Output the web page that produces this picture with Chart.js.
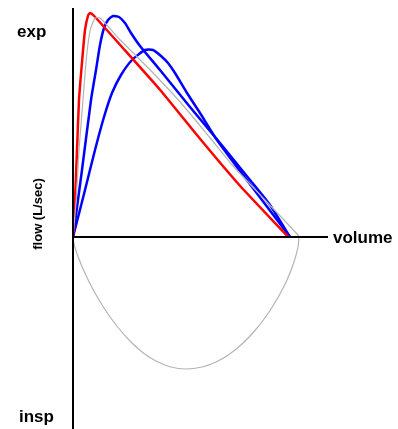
<!DOCTYPE html>
<html>
<head>
<meta charset="utf-8">
<script src="https://cdn.jsdelivr.net/npm/chart.js@4.4.1/dist/chart.umd.min.js"></script>
<style>
html,body{margin:0;padding:0;background:#fff;}
#wrap{width:398px;height:429px;position:relative;}
</style>
</head>
<body>
<div id="wrap"><canvas id="c" width="398" height="429"></canvas></div>
<script>
// Volume (L) and flow (L/sec)
const redVolume  = [0, 0.05, 0.10, 0.15, 0.23, 0.30, 0.38, 0.43, 0.53, 1.18, 2.18, 3.18, 4.18, 5.38];
const redFlow    = [0, 1.48, 3.48, 5.48, 7.08, 8.28, 8.88, 8.96, 8.84, 7.68, 5.88, 3.92, 2.04, 0];

const blue1Volume = [0, 0.225, 0.45, 0.575, 0.675, 0.775, 0.875, 1.00, 1.15, 1.30, 1.45, 1.675, 2.175, 2.925, 3.675, 4.425, 4.925, 5.425];
const blue1Flow   = [0, 2.68, 5.48, 6.68, 7.68, 8.36, 8.68, 8.84, 8.80, 8.56, 8.16, 7.64, 6.68, 5.20, 3.76, 2.28, 1.28, 0];

const blue2Volume = [0, 0.275, 0.55, 0.775, 0.975, 1.20, 1.475, 1.80, 2.00, 2.20, 2.375, 2.55, 2.85, 3.175, 3.60, 4.175, 4.80, 5.425];
const blue2Flow   = [0, 1.72, 3.48, 4.80, 5.76, 6.48, 7.08, 7.48, 7.48, 7.24, 6.96, 6.56, 5.76, 4.96, 3.88, 2.64, 1.32, 0];

const grayExpVolume = [0, 0.08, 0.15, 0.23, 0.33, 0.43, 0.55, 0.68, 1.18, 1.93, 2.68, 3.43, 3.98, 4.68, 5.18, 5.65];
const grayExpFlow   = [0, 1.48, 3.48, 5.08, 7.08, 8.28, 8.76, 8.76, 7.88, 6.68, 5.40, 3.96, 2.88, 1.68, 0.84, 0.04];

const grayInspVolume = [5.65, 5.625, 5.525, 5.35, 5.125, 4.85, 4.55, 4.225, 3.90, 3.575, 3.225, 2.825, 2.425, 2.075, 1.75, 1.425, 1.10, 0.80, 0.525, 0.30, 0.125, 0.025, 0];
const grayInspFlow   = [0.04, -0.40, -1.00, -1.72, -2.42, -3.12, -3.74, -4.28, -4.70, -5.00, -5.20, -5.28, -5.19, -4.96, -4.63, -4.16, -3.57, -2.90, -2.17, -1.45, -0.78, -0.28, 0];

const axisLabels = { top: "exp", bottom: "insp", y: "flow (L/sec)", x: "volume" };

function pts(xs, ys){ return xs.map((x,i)=>({x:x, y:ys[i]})); }

const axesPlugin = {
  id: 'axesPlugin',
  afterDatasetsDraw(chart){
    const ctx = chart.ctx, xs = chart.scales.x, ys = chart.scales.y, a = chart.chartArea;
    const x0 = xs.getPixelForValue(0), y0 = ys.getPixelForValue(0);
    ctx.save();
    ctx.strokeStyle = '#000';
    ctx.lineWidth = 2;
    ctx.beginPath();
    ctx.moveTo(x0, a.top); ctx.lineTo(x0, a.bottom);
    ctx.moveTo(x0, y0); ctx.lineTo(a.right, y0);
    ctx.stroke();
    ctx.fillStyle = '#000';
    ctx.font = 'bold 17px "Liberation Sans", Arial, sans-serif';
    ctx.textAlign = 'left';
    ctx.textBaseline = 'alphabetic';
    ctx.fillText(axisLabels.top, 17, 37);
    ctx.fillText(axisLabels.bottom, 19, 422);
    ctx.textBaseline = 'middle';
    ctx.fillText(axisLabels.x, a.right + 5, y0 + 1);
    ctx.font = 'bold 13px "Liberation Sans", Arial, sans-serif';
    ctx.translate(38, 214);
    ctx.rotate(-Math.PI/2);
    ctx.textAlign = 'center';
    ctx.fillText(axisLabels.y, 0, 0);
    ctx.restore();
  }
};

new Chart(document.getElementById('c'), {
  type: 'scatter',
  data: {
    datasets: [
      { data: pts(grayExpVolume, grayExpFlow), borderColor: '#b4b4b4', borderWidth: 1.2, showLine: true, pointRadius: 0, tension: 0.15 },
      { data: pts(grayInspVolume, grayInspFlow), borderColor: '#b4b4b4', borderWidth: 1.2, showLine: true, pointRadius: 0, tension: 0.3 },
      { data: pts(redVolume, redFlow), borderColor: '#ff0000', borderWidth: 2.5, showLine: true, pointRadius: 0, tension: 0.15 },
      { data: pts(blue1Volume, blue1Flow), borderColor: '#0000ff', borderWidth: 2.5, showLine: true, pointRadius: 0, tension: 0.2 },
      { data: pts(blue2Volume, blue2Flow), borderColor: '#0000ff', borderWidth: 2.5, showLine: true, pointRadius: 0, tension: 0.2 }
    ]
  },
  options: {
    responsive: false,
    animation: false,
    layout: { padding: { left: 73, right: 70, top: 8, bottom: 0 } },
    plugins: { legend: { display: false }, tooltip: { enabled: false } },
    scales: {
      x: { type: 'linear', display: false, min: 0, max: 6.375 },
      y: { type: 'linear', display: false, min: -7.68, max: 9.16 }
    }
  },
  plugins: [axesPlugin]
});
</script>
</body>
</html>
